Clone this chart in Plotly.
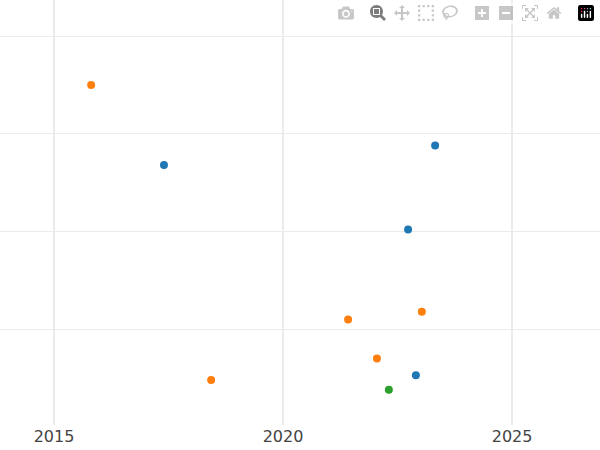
import plotly.graph_objects as go

orange_x = [2015.81, 2018.43, 2021.42, 2022.05, 2023.03]
orange_y = [3.50, 0.48, 1.10, 0.70, 1.18]
blue_x = [2017.40, 2023.32, 2022.73, 2022.90]
blue_y = [2.68, 2.88, 2.02, 0.53]
green_x = [2022.31]
green_y = [0.38]
x_ticks = [2015, 2020, 2025]

fig = go.Figure()
for xs, ys, c in [(blue_x, blue_y, "#1f77b4"), (orange_x, orange_y, "#ff7f0e"), (green_x, green_y, "#2ca02c")]:
    fig.add_trace(go.Scatter(x=xs, y=ys, mode="markers", marker=dict(color=c, size=8), showlegend=False))

fig.update_layout(
    width=600, height=450, margin=dict(l=0, r=0, t=0, b=25),
    plot_bgcolor="white", paper_bgcolor="white",
    font=dict(family="DejaVu Sans", size=16, color="#444"),
    xaxis=dict(range=[2013.82, 2026.92], tickvals=x_ticks, showgrid=True, gridcolor="#ebebeb", gridwidth=2, zeroline=False, showline=False),
    yaxis=dict(range=[0.02, 4.37], dtick=1, showticklabels=False, showgrid=True, gridcolor="#ebebeb", gridwidth=1, zeroline=False),
)
fig.write_html("out.html", post_script="document.body.style.margin='0';document.body.style.overflow='hidden';")
